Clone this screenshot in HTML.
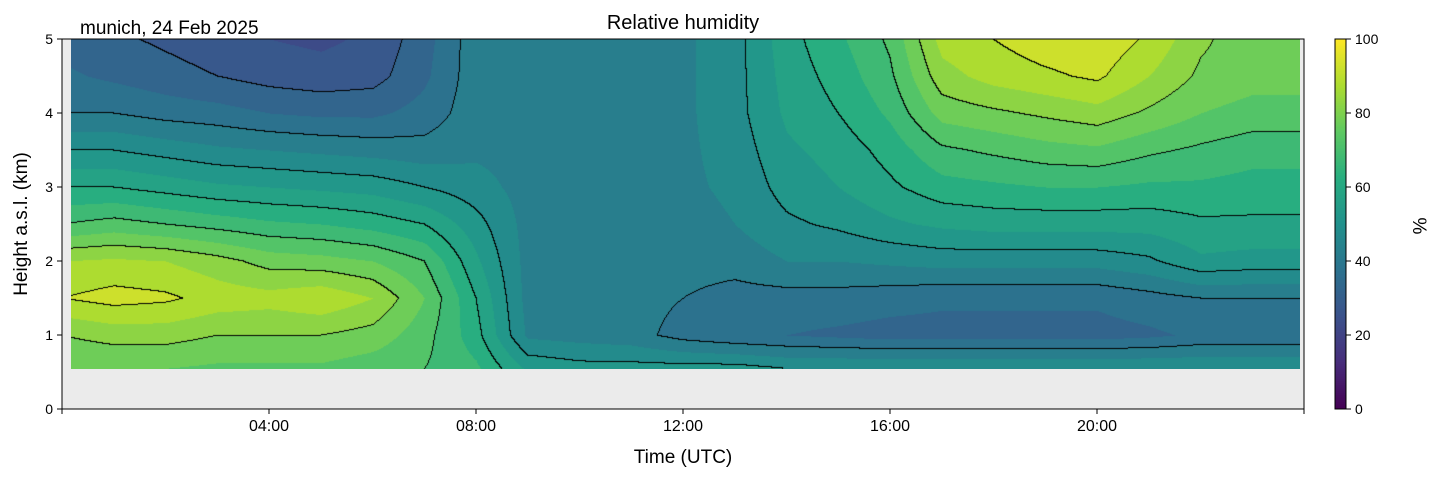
<!DOCTYPE html>
<html><head><meta charset="utf-8"><style>
body{margin:0;background:#fff;font-family:"Liberation Sans",sans-serif;}
#wrap{position:relative;width:1429px;height:478px;overflow:hidden}
svg{position:absolute;left:0;top:0}
canvas{position:absolute}
</style></head><body>
<div id="wrap">
<canvas id="hm"></canvas>
<canvas id="cb" style="left:1335px;top:39px" width="11" height="370"></canvas>
<svg id="ax" width="1429" height="478"></svg>
</div>
<script>
const hours=[0,1,2,3,4,5,6,7,8,9,10,11,12,13,14,15,16,17,18,19,20,21,22,23,24];
const heights=[0.55,1.0,1.5,2.0,2.5,3.0,3.5,4.0,4.5,5.0];
// rh[hourIndex] = values at each height
const rh=[
[75,80,90,85,70,60,50,40,36,33],
[75,82,92,86,72,60,50,40,34,31],
[75,82,91,85,70,58,48,38,32,29],
[74,80,88,82,68,56,46,37,30,27],
[74,80,87,78,66,55,45,35,28,25],
[74,80,89,77,65,54,44,34,27,24],
[72,78,85,75,63,53,43,34,28,26],
[70,72,75,70,60,50,42,37,34,33],
[66,62,60,56,52,47,44,43,43,43],
[54,44,43,43,43,43,43,43,43,43],
[52,43,42,43,43,43,43,43,43,43],
[52,42,42,43,43,44,44,44,44,44],
[52,38,40,42,43,44,44,44,44,44],
[52,36,38,42,45,46,47,48,48,48],
[50,35,38,45,49,52,54,56,57,58],
[50,34,38,45,51,55,57,60,62,64],
[50,33,37,46,54,59,62,66,69,71],
[50,33,36,47,56,63,69,77,83,87],
[50,33,36,47,57,64,71,79,87,90],
[50,33,36,47,57,65,73,81,89,93],
[50,33,36,47,57,65,74,83,91,94],
[50,34,38,49,57,64,71,79,85,89],
[50,36,40,54,59,64,69,75,79,81],
[50,36,40,53,59,63,67,73,77,77],
[50,36,40,53,59,63,67,73,77,77]];
const xTicks=["04:00","08:00","12:00","16:00","20:00"];
const xTickHours=[4,8,12,16,20];
const yTicks=[0,1,2,3,4,5];
const cbTicks=[0,20,40,60,80,100];

const X0=62,X1=1304,Y0=409,Y1=39;
const xs=h=>X0+(X1-X0)*h/24;
const ys=k=>Y0-(Y0-Y1)*k/5;
const stops=["#440154","#472d7b","#3b528b","#2c728e","#21918c","#28ae80","#5ec962","#addc30","#fde725"].map(c=>[1,3,5].map(i=>parseInt(c.substr(i,2),16)));
function vir(v){v=Math.max(0,Math.min(1,v));const p=v*8,i=Math.min(7,Math.floor(p)),f=p-i;return stops[i].map((a,j)=>Math.round(a+(stops[i+1][j]-a)*f));}
function val(t,h){
  let i=Math.max(0,Math.min(hours.length-2,Math.floor(t)));let ft=(t-hours[i])/(hours[i+1]-hours[i]);
  let j=0;while(j<heights.length-2&&h>heights[j+1])j++;let fh=(h-heights[j])/(heights[j+1]-heights[j]);
  ft=Math.max(0,Math.min(1,ft));fh=Math.max(0,Math.min(1,fh));
  const a=rh[i][j]*(1-fh)+rh[i][j+1]*fh,b=rh[i+1][j]*(1-fh)+rh[i+1][j+1]*fh;return a*(1-ft)+b*ft;}
const tS=0.17,tE=23.93,hS=0.54,hE=5;
const cx0=Math.round(xs(tS)),cx1=Math.round(xs(tE)),cy0=Math.round(ys(hE)),cy1=Math.round(ys(hS));
const cv=document.getElementById('hm');cv.width=cx1-cx0;cv.height=cy1-cy0;cv.style.left=cx0+'px';cv.style.top=cy0+'px';
const ctx=cv.getContext('2d');const img=ctx.createImageData(cv.width,cv.height);
const W=cv.width,H=cv.height;const V=new Float32Array(W*H);
for(let y=0;y<H;y++)for(let x=0;x<W;x++){const t=(cx0+x-X0)/(X1-X0)*24,h=(Y0-(cy0+y))/(Y0-Y1)*5;V[y*W+x]=val(t,h);}
for(let y=0;y<H;y++)for(let x=0;x<W;x++){const v=V[y*W+x];const q=Math.floor(v/5)*5+2.5;let c=vir(q/100);
  const l=Math.floor(v/10);let line=false;
  if(x<W-1&&Math.floor(V[y*W+x+1]/10)!=l)line=true;if(y<H-1&&Math.floor(V[(y+1)*W+x]/10)!=l)line=true;
  if(line)c=[0,0,0];const k=(y*W+x)*4;img.data[k]=c[0];img.data[k+1]=c[1];img.data[k+2]=c[2];img.data[k+3]=255;}
ctx.putImageData(img,0,0);
const cb=document.getElementById('cb').getContext('2d');
for(let y=0;y<370;y++){const c=vir(1-y/369);cb.fillStyle=`rgb(${c})`;cb.fillRect(0,y,11,1);}
const NS="http://www.w3.org/2000/svg";const svg=document.getElementById('ax');
function el(tag,attrs,txt){const e=document.createElementNS(NS,tag);for(const k in attrs)e.setAttribute(k,attrs[k]);if(txt!==undefined)e.textContent=txt;svg.appendChild(e);return e;}
const bg=el('rect',{x:X0,y:Y1,width:X1-X0,height:Y0-Y1,fill:'#ebebeb'});


document.getElementById('wrap').insertBefore(svg,document.getElementById('hm'));
svg.style.zIndex=0;document.getElementById('hm').style.zIndex=1;
const svg2=document.createElementNS(NS,'svg');svg2.setAttribute('width',1429);svg2.setAttribute('height',478);svg2.style.zIndex=2;


document.getElementById('wrap').appendChild(svg2);
function e2(tag,attrs,txt){const e=document.createElementNS(NS,tag);for(const k in attrs)e.setAttribute(k,attrs[k]);if(txt!==undefined)e.textContent=txt;svg2.appendChild(e);return e;}
e2('rect',{x:X0,y:Y1,width:X1-X0,height:Y0-Y1,fill:'none',stroke:'#000','stroke-width':1});
e2('rect',{x:1335,y:39,width:11,height:370,fill:'none',stroke:'#000','stroke-width':1});
xTickHours.forEach((h,i)=>{const x=xs(h);e2('line',{x1:x,x2:x,y1:Y0,y2:Y0+5,stroke:'#000'});
  const t=e2('text',{x:x,y:Y0+22,'text-anchor':'middle','font-size':16},xTicks[i]);});
[0,24].forEach(h=>e2('line',{x1:xs(h),x2:xs(h),y1:Y0,y2:Y0+5,stroke:'#000'}));
yTicks.forEach(k=>{const y=ys(k);e2('line',{x1:X0-5,x2:X0,y1:y,y2:y,stroke:'#000'});
  const t=e2('text',{x:X0-9,y:y+5,'text-anchor':'end','font-size':14},String(k));});
cbTicks.forEach(v=>{const y=409-370*v/100;e2('line',{x1:1346,x2:1351,y1:y,y2:y,stroke:'#000'});
  const t=e2('text',{x:1355,y:y+5,'font-size':14},String(v));});
let t;
t=e2('text',{x:683,y:29,'text-anchor':'middle','font-size':20},'Relative humidity');
t=e2('text',{x:80,y:34,'font-size':19},'munich, 24 Feb 2025');
t=e2('text',{x:683,y:463,'text-anchor':'middle','font-size':19},'Time (UTC)');
t=e2('text',{x:27,y:224,'text-anchor':'middle','font-size':19,transform:'rotate(-90 27 224)'},'Height a.s.l. (km)');
t=e2('text',{x:1413,y:226,'text-anchor':'middle','font-size':19,transform:'rotate(90 1413 226)'},'%');
</script>
</body></html>
